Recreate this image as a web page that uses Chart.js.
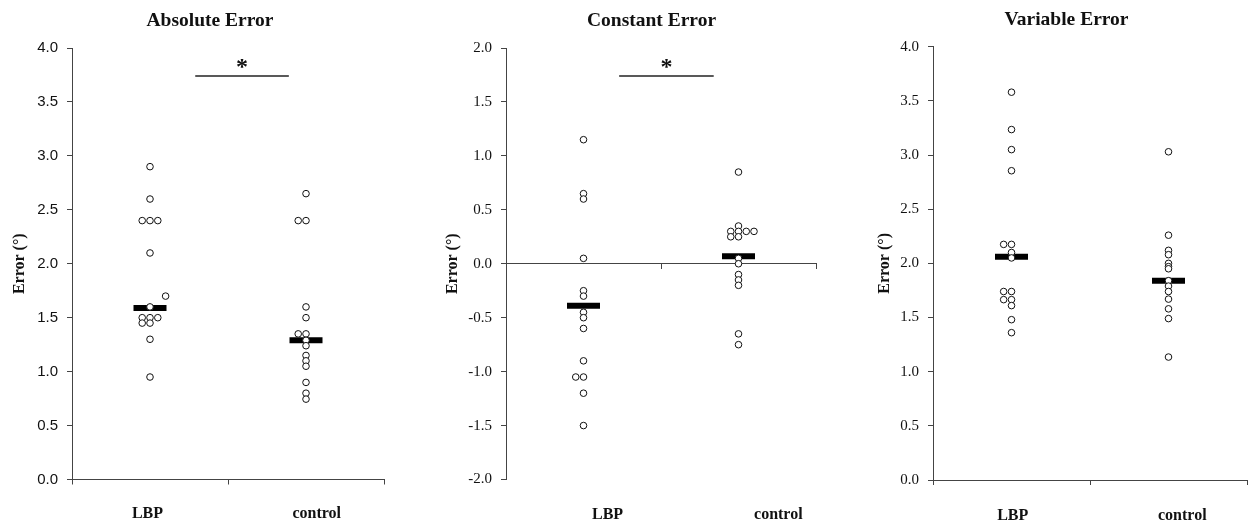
<!DOCTYPE html>
<html><head><meta charset="utf-8">
<script src="https://cdn.jsdelivr.net/npm/chart.js@4/dist/chart.umd.min.js"></script>
<style>
html,body{margin:0;padding:0;background:#fff;}
#wrap{position:relative;width:1249px;height:524px;overflow:hidden;background:#fff;}
canvas{position:absolute;top:0;}
</style></head><body>
<div id="wrap">
<canvas id="c1" width="420" height="524" style="left:0px"></canvas>
<canvas id="c2" width="443" height="524" style="left:430px"></canvas>
<canvas id="c3" width="441" height="524" style="left:846px"></canvas>
</div>
<script>
// ---------------- data ----------------
const categories = ['LBP', 'control'];
const yAxisTitle = 'Error (°)';
const panelTitles = ['Absolute Error', 'Constant Error', 'Variable Error'];

const absTicks = [0, 0.5, 1, 1.5, 2, 2.5, 3, 3.5, 4];
const conTicks = [-2, -1.5, -1, -0.5, 0, 0.5, 1, 1.5, 2];
const varTicks = [0, 0.5, 1, 1.5, 2, 2.5, 3, 3.5, 4];

// Absolute error
const absLBP = [2.9, 2.6, 2.4, 2.4, 2.4, 2.1, 1.7, 1.6, 1.5, 1.5, 1.5, 1.45, 1.45, 1.3, 0.95];
const absLBPSlot = [0, 0, -1, 0, 1, 0, 2, 0, -1, 0, 1, -1, 0, 0, 0];
const absControl = [2.65, 2.4, 2.4, 1.6, 1.5, 1.35, 1.35, 1.29, 1.24, 1.15, 1.1, 1.05, 0.9, 0.8, 0.745];
const absControlSlot = [0, -1, 0, 0, 0, -1, 0, 0, 0, 0, 0, 0, 0, 0, 0];
const absCentre = [1.59, 1.29];
const absSig = [0.79, 1.39, 3.74];

// Constant error
const conLBP = [1.15, 0.65, 0.6, 0.05, -0.25, -0.3, -0.45, -0.5, -0.6, -0.9, -1.05, -1.05, -1.2, -1.5];
const conLBPSlot = [0, 0, 0, 0, 0, 0, 0, 0, 0, 0, -1, 0, 0, 0];
const conControl = [0.85, 0.35, 0.3, 0.3, 0.3, 0.3, 0.25, 0.25, 0.05, 0.0, -0.1, -0.15, -0.2, -0.65, -0.75];
const conControlSlot = [0, 0, -1, 0, 1, 2, -1, 0, 0, 0, 0, 0, 0, 0, 0];
const conCentre = [-0.39, 0.07];
const conSig = [0.73, 1.34, 1.74];

// Variable error
const varLBP = [3.58, 3.235, 3.05, 2.855, 2.175, 2.175, 2.1, 2.05, 1.74, 1.74, 1.665, 1.665, 1.61, 1.48, 1.36];
const varLBPSlot = [0, 0, 0, 0, -1, 0, 0, 0, -1, 0, -1, 0, 0, 0, 0];
const varControl = [3.03, 2.26, 2.12, 2.08, 2.0, 1.97, 1.95, 1.84, 1.79, 1.74, 1.67, 1.58, 1.49, 1.135];
const varControlSlot = [0, 0, 0, 0, 0, 0, 0, 0, 0, 0, 0, 0, 0, 0];
const varCentre = [2.06, 1.84];

// ---------------- styling / layout ----------------
const SERIF = '"Liberation Serif", "Times New Roman", serif';
const SANS = '"Liberation Sans", Arial, sans-serif';
const AXIS = '#444';
const INK = '#111';
const SLOT = 0.05;
Chart.defaults.font.family = SERIF;
Chart.defaults.color = INK;

const sigMark = {
  id: 'sigMark',
  afterDatasetsDraw(chart, args, opts) {
    if (!opts || !opts.bracket) return;
    const [a, b, lvl] = opts.bracket;
    const x = chart.scales.x.getPixelForValue((a + b) / 2);
    const y = chart.scales.y.getPixelForValue(lvl);
    const ctx = chart.ctx;
    ctx.save();
    ctx.font = 'bold 24px ' + SERIF;
    ctx.fillStyle = INK;
    ctx.textAlign = 'center';
    ctx.textBaseline = 'alphabetic';
    ctx.fillText('*', x, y - 2);
    ctx.restore();
  }
};

function buildPanel(id, p) {
  const pts = (vals, slots, ci) => vals.map((v, i) => ({ x: ci + 0.5 + slots[i] * SLOT, y: v }));
  const datasets = [
    {
      data: pts(p.lbp, p.lbpSlot, 0).concat(pts(p.ctl, p.ctlSlot, 1)),
      pointStyle: 'circle', pointRadius: 3.3, pointBorderWidth: 1,
      pointBorderColor: INK, pointBackgroundColor: '#fff', showLine: false, clip: false
    },
    {
      data: p.centre.map((v, i) => ({ x: i + 0.5, y: v })),
      pointStyle: 'line', pointRadius: 16.5, pointBorderWidth: 6,
      pointBorderColor: '#000', pointBackgroundColor: '#000', showLine: false, clip: false
    }
  ];
  if (p.sig) {
    datasets.push({
      data: [{ x: p.sig[0], y: p.sig[2] }, { x: p.sig[1], y: p.sig[2] }],
      showLine: true, borderColor: '#222', borderWidth: 1.6, pointRadius: 0, clip: false
    });
  }
  const L = p.L;
  const bounds = Array.from({ length: categories.length + 1 }, (_, i) => i);
  new Chart(document.getElementById(id), {
    type: 'scatter',
    data: { datasets },
    plugins: [sigMark],
    options: {
      responsive: false, animation: false, events: [],
      layout: { padding: 0 },
      plugins: {
        legend: { display: false }, tooltip: { enabled: false },
        title: {
          display: true, text: p.title, color: INK,
          font: { family: SERIF, size: 19.5, weight: 'bold' },
          padding: { top: L.tTop, bottom: L.tBottom }
        },
        sigMark: { bracket: p.sig }
      },
      scales: {
        x: {
          type: 'linear', min: 0, max: categories.length,
          position: p.zeroAxis ? { y: 0 } : 'bottom',
          afterBuildTicks: s => { s.ticks = bounds.map(v => ({ value: v })); },
          afterFit: s => { s.height = L.xHeight; },
          ticks: { display: false },
          grid: { display: true, drawOnChartArea: false, drawTicks: true, tickLength: 5, color: AXIS },
          border: { display: true, color: AXIS, width: 1 }
        },
        xl: {
          type: 'linear', min: 0, max: categories.length, position: 'bottom', weight: 1,
          afterBuildTicks: s => { s.ticks = L.labelPos.map(v => ({ value: v })); },
          afterFit: s => { s.height = L.xlHeight; },
          ticks: {
            autoSkip: false, maxRotation: 0, minRotation: 0,
            callback: (v, i) => categories[i],
            font: { family: SERIF, size: 16, weight: 'bold' }, color: INK, padding: L.xlPad
          },
          grid: { display: false, drawTicks: false },
          border: { display: false }
        },
        y: {
          type: 'linear', position: 'left', min: p.ticks[0], max: p.ticks[p.ticks.length - 1],
          afterBuildTicks: s => { s.ticks = p.ticks.map(v => ({ value: v })); },
          afterFit: s => { s.width = L.yWidth; },
          ticks: { callback: v => Number(v).toFixed(1), font: p.tickFont, color: INK, padding: 9 },
          grid: { display: true, drawOnChartArea: false, drawTicks: true, tickLength: 5, color: AXIS },
          border: { display: true, color: AXIS, width: 1 },
          title: {
            display: true, text: yAxisTitle, color: INK,
            font: { family: SERIF, size: 16, weight: 'bold' },
            padding: { top: L.yTitlePad, bottom: 0 }
          }
        },
        yr: {
          type: 'linear', position: 'right', min: 0, max: 1,
          afterFit: s => { s.width = L.rightWidth; },
          ticks: { display: false }, grid: { display: false, drawTicks: false }, border: { display: false }
        }
      }
    }
  });
}

buildPanel('c1', {
  title: panelTitles[0], lbp: absLBP, lbpSlot: absLBPSlot, ctl: absControl, ctlSlot: absControlSlot,
  centre: absCentre, sig: absSig, ticks: absTicks, zeroAxis: false,
  tickFont: { family: SANS, size: 15 },
  L: { yWidth: 72, yTitlePad: 10.4, rightWidth: 36, tTop: 9.6, tBottom: 15,
       xHeight: 5, xlHeight: 39.5, xlPad: 20, labelPos: [0.484, 1.569] }
});
buildPanel('c2', {
  title: panelTitles[1], lbp: conLBP, lbpSlot: conLBPSlot, ctl: conControl, ctlSlot: conControlSlot,
  centre: conCentre, sig: conSig, ticks: conTicks, zeroAxis: true,
  tickFont: { family: SERIF, size: 15 },
  L: { yWidth: 76, yTitlePad: 13.7, rightWidth: 57, tTop: 9.6, tBottom: 15,
       xHeight: 0, xlHeight: 44.5, xlPad: 26, labelPos: [0.655, 1.757] }
});
buildPanel('c3', {
  title: panelTitles[2], lbp: varLBP, lbpSlot: varLBPSlot, ctl: varControl, ctlSlot: varControlSlot,
  centre: varCentre, sig: null, ticks: varTicks, zeroAxis: false,
  tickFont: { family: SERIF, size: 15 },
  L: { yWidth: 87, yTitlePad: 29.4, rightWidth: 40, tTop: 8, tBottom: 15.3,
       xHeight: 5, xlHeight: 39, xlPad: 21, labelPos: [0.508, 1.588] }
});
</script>
</body></html>
